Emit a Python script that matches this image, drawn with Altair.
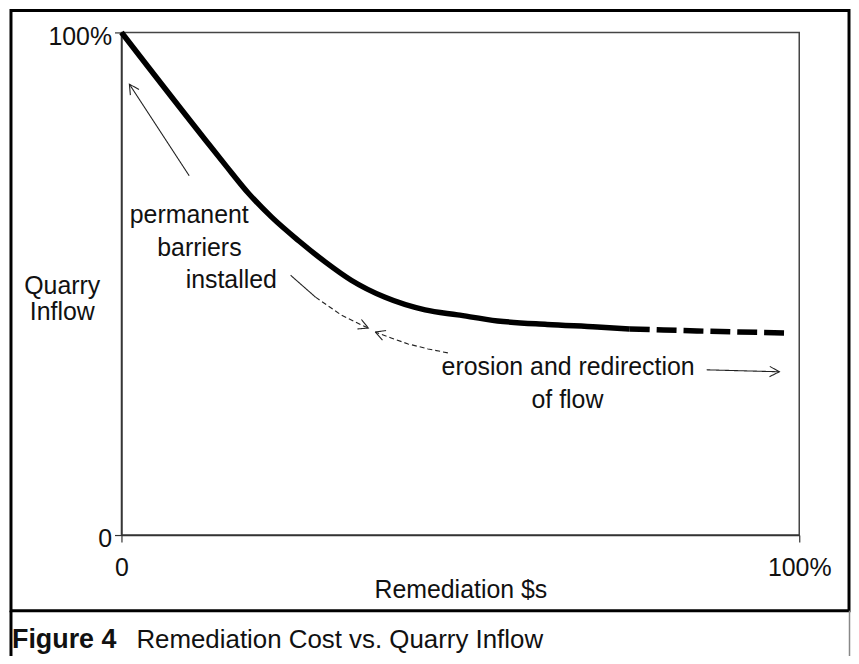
import math
import altair as alt
import pandas as pd

# ---------------- data ----------------
curve_x = [0, 12.5, 15.4, 18.8, 22.2, 26.1, 30.1, 33.9, 38.9, 44.8, 49.6, 55.5, 62.8, 70.2, 75.0]
curve_y = [100, 78.4, 73.5, 67.9, 63.2, 58.6, 54.3, 50.7, 47.3, 44.8, 43.8, 42.6, 41.9, 41.4, 41.0]
dash_x = [75.0, 80.0, 84.9, 91.0, 98.4]
dash_y = [41.0, 40.8, 40.6, 40.4, 40.2]

ann_text = ["permanent", "barriers", "installed", "erosion and redirection", "of flow"]
ann_x = [10.0, 11.5, 16.2, 65.9, 65.8]
ann_y = [63.6, 57.2, 50.7, 33.5, 26.9]

# annotation arrows: (x list, y list, line style); last point is the tip
arrow1_x = [9.99, 1.17]
arrow1_y = [71.49, 89.70]
arrow2a_x = [24.96, 28.63]
arrow2a_y = [51.68, 47.33]
arrow2b_x = [28.63, 32.45, 35.39, 36.42]
arrow2b_y = [47.33, 43.76, 41.78, 41.19]
arrow3_x = [48.16, 45.23, 42.29, 39.79, 37.44]
arrow3_y = [36.24, 37.03, 38.02, 39.21, 40.40]
arrow4_x = [86.34, 97.06]
arrow4_y = [32.87, 32.48]

x_ticks = [0, 100]
y_ticks = [0, 100]
x_title = "Remediation $s"
y_title = ["Quarry", "Inflow"]
caption_bold = "Figure 4"
caption_text = "Remediation Cost vs. Quarry Inflow"

# ---------------- layout ----------------
W, H = 681, 505
FONT = "Liberation Sans"
FS = 25
INK = "#111111"

xs = alt.Scale(domain=[0, 100], nice=False, zero=False)
ys = alt.Scale(domain=[0, 100], nice=False, zero=False)

X = alt.X("x:Q", scale=xs, axis=alt.Axis(
    values=x_ticks, labelExpr="datum.value == 100 ? '100%' : '0'",
    title=x_title, titleY=55, titleBaseline="middle",
))
Y = alt.Y("y:Q", scale=ys, axis=alt.Axis(
    values=y_ticks, labelExpr="datum.value == 100 ? '100%' : '0'",
    title=y_title, titleAngle=0, titleX=-60, titleY=254, titleAlign="center",
    titleBaseline="middle", titleLineHeight=26,
))

curve_df = pd.DataFrame({"x": curve_x, "y": curve_y, "i": range(len(curve_x))})
dash_df = pd.DataFrame({"x": dash_x, "y": dash_y, "i": range(len(dash_x))})

rows = []
segs = [
    ("a1", arrow1_x, arrow1_y, "solid"),
    ("a2a", arrow2a_x, arrow2a_y, "solid"),
    ("a2b", arrow2b_x, arrow2b_y, "dashed"),
    ("a3", arrow3_x, arrow3_y, "dashed"),
    ("a4", arrow4_x, arrow4_y, "solid"),
]
for sid, xx, yy, st in segs:
    for k, (a, b) in enumerate(zip(xx, yy)):
        rows.append({"seg": sid, "x": a, "y": b, "o": k, "style": st})


def heads(sid, xx, yy, L=11, ang=28):
    tip = (xx[-1], yy[-1])
    prev = (xx[-2], yy[-2])
    dx = (tip[0] - prev[0]) * W / 100
    dy = (tip[1] - prev[1]) * H / 100
    n = math.hypot(dx, dy)
    ux, uy = dx / n, dy / n
    out = []
    for s in (1, -1):
        a = math.radians(ang) * s
        bx = -(ux * math.cos(a) - uy * math.sin(a)) * L
        by = -(ux * math.sin(a) + uy * math.cos(a)) * L
        out.append((tip[0] + bx * 100 / W, tip[1] + by * 100 / H))
    return [
        {"seg": "h" + sid, "x": out[0][0], "y": out[0][1], "o": 0, "style": "solid"},
        {"seg": "h" + sid, "x": tip[0], "y": tip[1], "o": 1, "style": "solid"},
        {"seg": "h" + sid, "x": out[1][0], "y": out[1][1], "o": 2, "style": "solid"},
    ]


rows += heads("a1", arrow1_x, arrow1_y)
rows += heads("a2", arrow2b_x, arrow2b_y)
rows += heads("a3", arrow3_x, arrow3_y)
rows += heads("a4", arrow4_x, arrow4_y)
arrow_df = pd.DataFrame(rows)

ann_df = pd.DataFrame({"t": ann_text, "x": ann_x, "y": ann_y})
one = pd.DataFrame({"k": [0]})

# ---------------- layers ----------------
frame = alt.Chart(one).mark_rect(fillOpacity=0, stroke="#000000", strokeWidth=3).encode(
    x=alt.value(-111), x2=alt.value(731), y=alt.value(-22), y2=alt.value(581)
)
cap_left = alt.Chart(one).mark_rule(color="#000000", strokeWidth=3).encode(
    x=alt.value(-111), y=alt.value(581), y2=alt.value(660)
)
cap_right = alt.Chart(one).mark_rule(color="#888888", strokeWidth=1.5).encode(
    x=alt.value(731.5), y=alt.value(581), y2=alt.value(660)
)

curve = alt.Chart(curve_df).mark_line(
    color="#000000", strokeWidth=5.5, interpolate="monotone", strokeCap="butt"
).encode(x=X, y=Y, order="i:Q")

dashed = alt.Chart(dash_df).mark_line(
    color="#000000", strokeWidth=5.5, strokeDash=[20, 7], strokeCap="butt"
).encode(x=X, y=Y, order="i:Q")

arrows = alt.Chart(arrow_df).mark_line(color="#222222", strokeWidth=1.1).encode(
    x=X, y=Y,
    detail="seg:N",
    order="o:Q",
    strokeDash=alt.StrokeDash(
        "style:N",
        scale=alt.Scale(domain=["solid", "dashed"], range=[[1, 0], [5, 3]]),
        legend=None,
    ),
)

labels = alt.Chart(ann_df).mark_text(
    font=FONT, fontSize=FS, color=INK, align="center", baseline="middle"
).encode(x=X, y=Y, text="t:N")

cap1 = alt.Chart(one).mark_text(
    font=FONT, fontSize=27, fontWeight="bold", color=INK, align="left", baseline="alphabetic"
).encode(x=alt.value(-110), y=alt.value(619), text=alt.value(caption_bold))
cap2 = alt.Chart(one).mark_text(
    font=FONT, fontSize=26, color=INK, align="left", baseline="alphabetic"
).encode(x=alt.value(15), y=alt.value(619), text=alt.value(caption_text))

chart = alt.layer(
    curve, dashed, arrows, labels, frame, cap_left, cap_right, cap1, cap2
).properties(
    width=W, height=H,
    autosize=alt.AutoSizeParams(type="none"),
    padding={"left": 114, "top": 23, "right": 52, "bottom": 120},
    background="#ffffff",
).configure_view(
    stroke="#444444", strokeWidth=1.5
).configure_axis(
    grid=False,
    domainColor="#333333", domainWidth=1.5,
    tickColor="#333333", tickWidth=1.2, tickSize=7,
    labelFont=FONT, labelFontSize=FS, labelColor=INK,
    labelFlush=False, labelOverlap=False, labelBound=False,
    titleFont=FONT, titleFontSize=FS, titleColor=INK, titleFontWeight="normal",
).configure_axisY(
    labelPadding=3, labelOffset=4,
).configure_axisX(
    labelPadding=14,
)

chart.save("out.html", embed_options={"renderer": "svg", "actions": False})
